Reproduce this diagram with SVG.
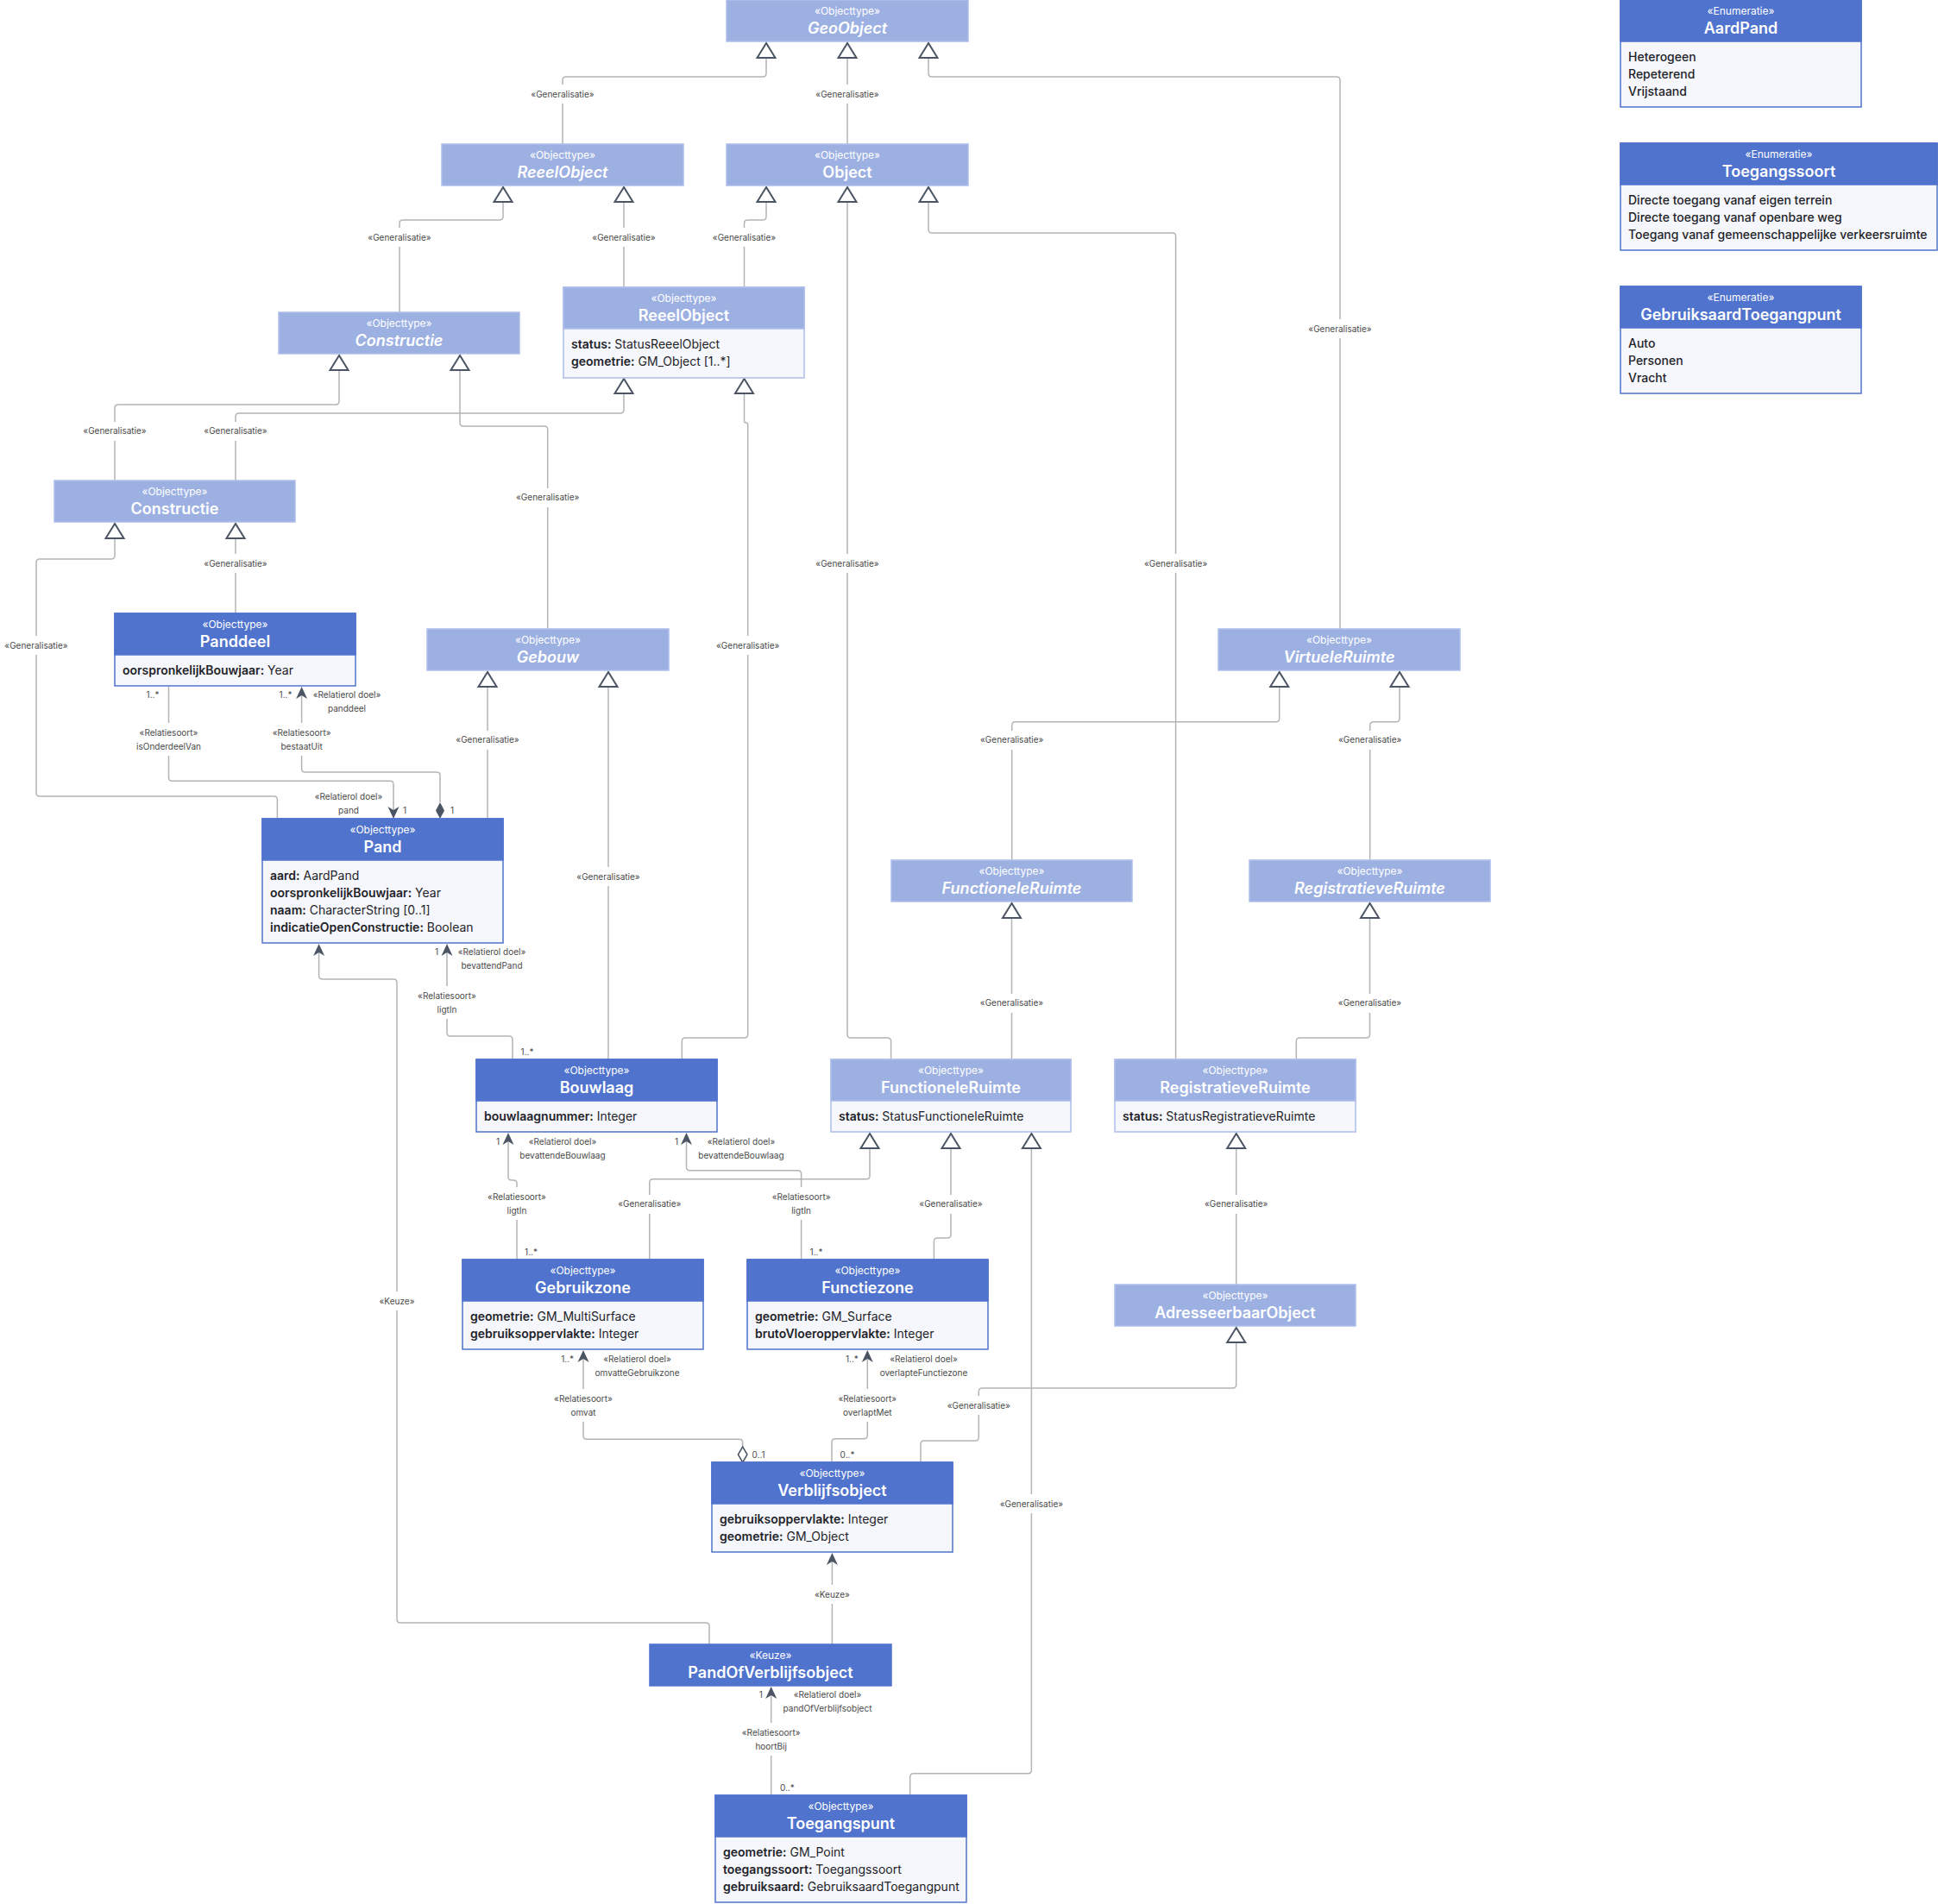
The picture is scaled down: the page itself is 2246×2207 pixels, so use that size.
<svg xmlns="http://www.w3.org/2000/svg" width="2246" height="2207" viewBox="0 0 2246 2207">
<style>
text{font-family:Inter,"Noto Sans","Liberation Sans",sans-serif}
.hl{fill:#9DB0E2;stroke:#AEBEEA;stroke-width:1.5}
.hd{fill:#5073CD;stroke:#5073CD;stroke-width:1.5}
.bl{fill:#F5F7FC;stroke:#AEBEEA;stroke-width:1.5}
.bd{fill:#F5F7FC;stroke:#5073CD;stroke-width:1.5}
.st{font-size:12px;fill:#fff;text-anchor:middle}
.nm{font-size:18px;font-weight:600;fill:#fff;text-anchor:middle}
.it{font-style:italic}
.at{font-size:14px;fill:#1F2328}
.k{font-weight:600}
.ev{font-size:14px;font-weight:500;fill:#1F2328}
.ln{fill:none;stroke:#B4B4B4;stroke-width:1.5}
.cl{font-size:10px;fill:#4A4A4A;text-anchor:middle}
.bg{fill:#fff}
.tri{fill:#fff;stroke:#4B5563;stroke-width:2}
.ah{fill:#4B5563}
.dh{fill:#fff;stroke:#4B5563;stroke-width:1.5}
</style>
<defs>
<path id="tri" class="tri" d="M0,0 L-10.5,17 L10.5,17 Z"/>
<path id="arr" class="ah" d="M0,0 L-6.5,14 L0,10 L6.5,14 Z"/>
</defs>

<g id="connectors">
<!-- generalisations -->
<path class="ln" d="M888,67 V85 Q888,89 884,89 H656 Q652,89 652,93 V167"/>
<path class="ln" d="M982,67 V167"/>
<path class="ln" d="M1076,67 V85 Q1076,89 1080,89 H1549 Q1553,89 1553,93 V729"/>
<path class="ln" d="M583,234 V251 Q583,255 579,255 H467 Q463,255 463,259 V362"/>
<path class="ln" d="M723,234 V333"/>
<path class="ln" d="M888,234 V251 Q888,255 884,255 H866.5 Q862.5,255 862.5,259 V333"/>
<path class="ln" d="M982,234 V1199 Q982,1203 986,1203 H1028.6 Q1032.6,1203 1032.6,1207 V1228"/>
<path class="ln" d="M1076,234 V266 Q1076,270 1080,270 H1358.6 Q1362.6,270 1362.6,274 V1228"/>
<path class="ln" d="M393,429 V465 Q393,469 389,469 H137 Q133,469 133,473 V557"/>
<path class="ln" d="M723,456 V475 Q723,479 719,479 H277 Q273,479 273,483 V557"/>
<path class="ln" d="M533,429 V490 Q533,494 537,494 H630.7 Q634.7,494 634.7,498 V729"/>
<path class="ln" d="M862.5,456 V488 Q862.5,490 864.6,490 Q866.7,490 866.7,492 V1199 Q866.7,1203 862.7,1203 H794.3 Q790.3,1203 790.3,1207 V1228"/>
<path class="ln" d="M133,624 V644 Q133,648 129,648 H46 Q42,648 42,652 V919 Q42,923 46,923 H317.4 Q321.4,923 321.4,927 V949"/>
<path class="ln" d="M273,624 V711"/>
<path class="ln" d="M565,796 V949"/>
<path class="ln" d="M705,796 V1228"/>
<path class="ln" d="M1482.7,796 V832.7 Q1482.7,836.7 1478.7,836.7 H1176.7 Q1172.7,836.7 1172.7,840.7 V997"/>
<path class="ln" d="M1622,796 V832.7 Q1622,836.7 1618,836.7 H1591.7 Q1587.7,836.7 1587.7,840.7 V997"/>
<path class="ln" d="M1172.5,1064 V1228"/>
<path class="ln" d="M1587.5,1064 V1199 Q1587.5,1203 1583.5,1203 H1506.3 Q1502.3,1203 1502.3,1207 V1228"/>
<path class="ln" d="M1008,1331 V1362.7 Q1008,1366.7 1004,1366.7 H756.8 Q752.8,1366.7 752.8,1370.7 V1460"/>
<path class="ln" d="M1102,1331 V1431 Q1102,1435 1098,1435 H1086.4 Q1082.4,1435 1082.4,1439 V1460"/>
<path class="ln" d="M1195.4,1331 V2051.7 Q1195.4,2055.7 1191.4,2055.7 H1058.7 Q1054.7,2055.7 1054.7,2059.7 V2081"/>
<path class="ln" d="M1432.7,1331 V1489"/>
<path class="ln" d="M1432.7,1556 V1605 Q1432.7,1609 1428.7,1609 H1138.3 Q1134.3,1609 1134.3,1613 V1666 Q1134.3,1670 1130.3,1670 H1071 Q1067,1670 1067,1674 V1695"/>
<!-- associations -->
<path class="ln" d="M195.5,796 V901.3 Q195.5,905.3 199.5,905.3 H452 Q456,905.3 456,909.3 V945"/>
<path class="ln" d="M349.6,806 V891 Q349.6,895 353.6,895 H506 Q510,895 510,899 V930"/>
<path class="ln" d="M518,1104 V1197 Q518,1201 522,1201 H590 Q594,1201 594,1205 V1228"/>
<path class="ln" d="M369.6,1104 V1131 Q369.6,1135 373.6,1135 H456 Q460,1135 460,1139 V1877 Q460,1881 464,1881 H818 Q822,1881 822,1885 V1906"/>
<path class="ln" d="M589,1323 V1364 Q589,1368 593,1368 H595 Q599,1368 599,1372 V1460"/>
<path class="ln" d="M795.5,1323 V1352.7 Q795.5,1356.7 799.5,1356.7 H924.6 Q928.6,1356.7 928.6,1360.7 V1460"/>
<path class="ln" d="M676,1575 V1664.3 Q676,1668.3 680,1668.3 H856.7 Q860.7,1668.3 860.7,1672.3 V1677"/>
<path class="ln" d="M1005.3,1575 V1663.7 Q1005.3,1667.7 1001.3,1667.7 H968 Q964,1667.7 964,1671.7 V1695"/>
<path class="ln" d="M964.4,1810 V1906"/>
<path class="ln" d="M893.7,1965 V2081"/>

<!-- generalisation triangles -->
<use href="#tri" x="888" y="50"/><use href="#tri" x="982" y="50"/><use href="#tri" x="1076" y="50"/>
<use href="#tri" x="583" y="217"/><use href="#tri" x="723" y="217"/>
<use href="#tri" x="888" y="217"/><use href="#tri" x="982" y="217"/><use href="#tri" x="1076" y="217"/>
<use href="#tri" x="723" y="439"/><use href="#tri" x="862.5" y="439"/>
<use href="#tri" x="393" y="412"/><use href="#tri" x="533" y="412"/>
<use href="#tri" x="133" y="607"/><use href="#tri" x="273" y="607"/>
<use href="#tri" x="565" y="779"/><use href="#tri" x="705" y="779"/>
<use href="#tri" x="1482.7" y="779"/><use href="#tri" x="1622" y="779"/>
<use href="#tri" x="1172.5" y="1047"/><use href="#tri" x="1587.5" y="1047"/>
<use href="#tri" x="1008" y="1314"/><use href="#tri" x="1102" y="1314"/><use href="#tri" x="1195.4" y="1314"/>
<use href="#tri" x="1432.7" y="1314"/>
<use href="#tri" x="1432.7" y="1539"/>

<!-- association ends -->
<use href="#arr" transform="translate(456,949) rotate(180)"/>
<use href="#arr" x="349.6" y="796"/>
<path class="ah" d="M510,949 L515,939.5 L510,930 L505,939.5 Z"/>
<use href="#arr" x="518" y="1094"/>
<use href="#arr" x="369.6" y="1094"/>
<use href="#arr" x="589" y="1313"/>
<use href="#arr" x="795.5" y="1313"/>
<use href="#arr" x="676" y="1565"/>
<use href="#arr" x="1005.3" y="1565"/>
<path class="dh" d="M860.7,1695 L866,1686 L860.7,1677 L855.4,1686 Z"/>
<use href="#arr" x="964.4" y="1800"/>
<use href="#arr" x="893.7" y="1955"/>

<!-- generalisation labels -->
<rect class="bg" x="613" y="98" width="78" height="22"/><text class="cl" x="652" y="112.5">«Generalisatie»</text>
<rect class="bg" x="943" y="98" width="78" height="22"/><text class="cl" x="982" y="112.5">«Generalisatie»</text>
<rect class="bg" x="1514" y="370" width="78" height="22"/><text class="cl" x="1553" y="384.5">«Generalisatie»</text>
<rect class="bg" x="424" y="264" width="78" height="22"/><text class="cl" x="463" y="278.5">«Generalisatie»</text>
<rect class="bg" x="684" y="264" width="78" height="22"/><text class="cl" x="723" y="278.5">«Generalisatie»</text>
<rect class="bg" x="823.5" y="264" width="78" height="22"/><text class="cl" x="862.5" y="278.5">«Generalisatie»</text>
<rect class="bg" x="943" y="642" width="78" height="22"/><text class="cl" x="982" y="656.5">«Generalisatie»</text>
<rect class="bg" x="1323.6" y="642" width="78" height="22"/><text class="cl" x="1362.6" y="656.5">«Generalisatie»</text>
<rect class="bg" x="94" y="489" width="78" height="22"/><text class="cl" x="133" y="503">«Generalisatie»</text>
<rect class="bg" x="234" y="489" width="78" height="22"/><text class="cl" x="273" y="503">«Generalisatie»</text>
<rect class="bg" x="595.7" y="566" width="78" height="22"/><text class="cl" x="634.7" y="580">«Generalisatie»</text>
<rect class="bg" x="827.7" y="737" width="78" height="22"/><text class="cl" x="866.7" y="751.5">«Generalisatie»</text>
<rect class="bg" x="234" y="642" width="78" height="22"/><text class="cl" x="273" y="656.5">«Generalisatie»</text>
<rect class="bg" x="3" y="737" width="78" height="22"/><text class="cl" x="42" y="751.5">«Generalisatie»</text>
<rect class="bg" x="526" y="847" width="78" height="22"/><text class="cl" x="565" y="861">«Generalisatie»</text>
<rect class="bg" x="666" y="1005" width="78" height="22"/><text class="cl" x="705" y="1020">«Generalisatie»</text>
<rect class="bg" x="1133.7" y="847" width="78" height="22"/><text class="cl" x="1172.7" y="861">«Generalisatie»</text>
<rect class="bg" x="1548.7" y="847" width="78" height="22"/><text class="cl" x="1587.7" y="861">«Generalisatie»</text>
<rect class="bg" x="1133.5" y="1152" width="78" height="22"/><text class="cl" x="1172.5" y="1166">«Generalisatie»</text>
<rect class="bg" x="1548.5" y="1152" width="78" height="22"/><text class="cl" x="1587.5" y="1166">«Generalisatie»</text>
<rect class="bg" x="713.8" y="1385" width="78" height="22"/><text class="cl" x="752.8" y="1399">«Generalisatie»</text>
<rect class="bg" x="1063" y="1385" width="78" height="22"/><text class="cl" x="1102" y="1399">«Generalisatie»</text>
<rect class="bg" x="1393.7" y="1385" width="78" height="22"/><text class="cl" x="1432.7" y="1399">«Generalisatie»</text>
<rect class="bg" x="1095.3" y="1618" width="78" height="22"/><text class="cl" x="1134.3" y="1633">«Generalisatie»</text>
<rect class="bg" x="1156.4" y="1732" width="78" height="22"/><text class="cl" x="1195.4" y="1747">«Generalisatie»</text>

<!-- association labels -->
<text class="cl" x="177" y="809">1..*</text>
<rect class="bg" x="157" y="838" width="77" height="38"/>
<text class="cl" x="195.5" y="853">«Relatiesoort»</text><text class="cl" x="195.5" y="869">isOnderdeelVan</text>
<text class="cl" x="404" y="927">«Relatierol doel»</text><text class="cl" x="404" y="943">pand</text>
<text class="cl" x="469" y="943">1</text>

<text class="cl" x="331" y="809">1..*</text>
<text class="cl" x="402" y="809">«Relatierol doel»</text><text class="cl" x="402" y="825">panddeel</text>
<rect class="bg" x="313" y="838" width="74" height="38"/>
<text class="cl" x="349.6" y="853">«Relatiesoort»</text><text class="cl" x="349.6" y="869">bestaatUit</text>
<text class="cl" x="524" y="943">1</text>

<text class="cl" x="506" y="1107">1</text>
<text class="cl" x="570" y="1107">«Relatierol doel»</text><text class="cl" x="570" y="1123">bevattendPand</text>
<rect class="bg" x="481" y="1143" width="74" height="38"/>
<text class="cl" x="518" y="1158">«Relatiesoort»</text><text class="cl" x="518" y="1174">ligtIn</text>
<text class="cl" x="611" y="1223">1..*</text>

<rect class="bg" x="440" y="1497" width="40" height="22"/><text class="cl" x="460" y="1511.5">«Keuze»</text>

<text class="cl" x="577" y="1327">1</text>
<text class="cl" x="652" y="1327">«Relatierol doel»</text><text class="cl" x="652" y="1343">bevattendeBouwlaag</text>
<rect class="bg" x="562" y="1376" width="74" height="38"/>
<text class="cl" x="599" y="1391">«Relatiesoort»</text><text class="cl" x="599" y="1407">ligtIn</text>
<text class="cl" x="615.5" y="1455">1..*</text>

<text class="cl" x="784" y="1327">1</text>
<text class="cl" x="859" y="1327">«Relatierol doel»</text><text class="cl" x="859" y="1343">bevattendeBouwlaag</text>
<rect class="bg" x="891.6" y="1376" width="74" height="38"/>
<text class="cl" x="928.6" y="1391">«Relatiesoort»</text><text class="cl" x="928.6" y="1407">ligtIn</text>
<text class="cl" x="946" y="1455">1..*</text>

<text class="cl" x="657.7" y="1579">1..*</text>
<text class="cl" x="738.5" y="1579">«Relatierol doel»</text><text class="cl" x="738.5" y="1595">omvatteGebruikzone</text>
<rect class="bg" x="639" y="1610" width="74" height="38"/>
<text class="cl" x="676" y="1625">«Relatiesoort»</text><text class="cl" x="676" y="1641">omvat</text>
<text class="cl" x="879" y="1690">0..1</text>

<text class="cl" x="987.4" y="1579">1..*</text>
<text class="cl" x="1070.5" y="1579">«Relatierol doel»</text><text class="cl" x="1070.5" y="1595">overlapteFunctiezone</text>
<rect class="bg" x="968" y="1610" width="74" height="38"/>
<text class="cl" x="1005.3" y="1625">«Relatiesoort»</text><text class="cl" x="1005.3" y="1641">overlaptMet</text>
<text class="cl" x="982" y="1690">0..*</text>

<rect class="bg" x="944.4" y="1837" width="40" height="22"/><text class="cl" x="964.4" y="1851.5">«Keuze»</text>

<text class="cl" x="881.7" y="1968">1</text>
<text class="cl" x="959" y="1968">«Relatierol doel»</text><text class="cl" x="959" y="1984">pandOfVerblijfsobject</text>
<rect class="bg" x="856.7" y="1997" width="74" height="38"/>
<text class="cl" x="893.7" y="2012">«Relatiesoort»</text><text class="cl" x="893.7" y="2028">hoortBij</text>
<text class="cl" x="912.3" y="2075.5">0..*</text>
</g>

<g id="n-GeoObject"><rect class="hl" x="842" y="0" width="280" height="48"/><text class="st" x="982" y="17">«Objecttype»</text><text class="nm it" x="982" y="38.5">GeoObject</text></g>
<g id="n-ReeelObjectAbstract"><rect class="hl" x="512" y="167" width="280" height="48"/><text class="st" x="652" y="184">«Objecttype»</text><text class="nm it" x="652" y="205.5">ReeelObject</text></g>
<g id="n-Object"><rect class="hl" x="842" y="167" width="280" height="48"/><text class="st" x="982" y="184">«Objecttype»</text><text class="nm" x="982" y="205.5">Object</text></g>
<g id="n-ReeelObject"><rect class="bl" x="653" y="333" width="279" height="105"/><rect class="hl" x="653" y="333" width="279" height="48"/><text class="st" x="792.5" y="350">«Objecttype»</text><text class="nm" x="792.5" y="371.5">ReeelObject</text>
<text class="at" x="662" y="404"><tspan class="k">status:</tspan> StatusReeelObject</text><text class="at" x="662" y="424"><tspan class="k">geometrie:</tspan> GM_Object [1..*]</text></g>
<g id="n-ConstructieAbstract"><rect class="hl" x="323" y="362" width="279" height="48"/><text class="st" x="462.5" y="379">«Objecttype»</text><text class="nm it" x="462.5" y="400.5">Constructie</text></g>
<g id="n-Constructie"><rect class="hl" x="63" y="557" width="279" height="48"/><text class="st" x="202.5" y="574">«Objecttype»</text><text class="nm" x="202.5" y="595.5">Constructie</text></g>
<g id="n-Panddeel"><rect class="bd" x="133" y="711" width="279" height="84"/><rect class="hd" x="133" y="711" width="279" height="48"/><text class="st" x="272.5" y="728">«Objecttype»</text><text class="nm" x="272.5" y="749.5">Panddeel</text>
<text class="at" x="142" y="782"><tspan class="k">oorspronkelijkBouwjaar:</tspan> Year</text></g>
<g id="n-Gebouw"><rect class="hl" x="495" y="729" width="280" height="48"/><text class="st" x="635" y="746">«Objecttype»</text><text class="nm it" x="635" y="767.5">Gebouw</text></g>
<g id="n-VirtueleRuimte"><rect class="hl" x="1412" y="729" width="280" height="48"/><text class="st" x="1552" y="746">«Objecttype»</text><text class="nm it" x="1552" y="767.5">VirtueleRuimte</text></g>
<g id="n-Pand"><rect class="bd" x="304" y="949" width="279" height="144"/><rect class="hd" x="304" y="949" width="279" height="48"/><text class="st" x="443.5" y="966">«Objecttype»</text><text class="nm" x="443.5" y="987.5">Pand</text>
<text class="at" x="313" y="1020"><tspan class="k">aard:</tspan> AardPand</text>
<text class="at" x="313" y="1040"><tspan class="k">oorspronkelijkBouwjaar:</tspan> Year</text>
<text class="at" x="313" y="1060"><tspan class="k">naam:</tspan> CharacterString [0..1]</text>
<text class="at" x="313" y="1080"><tspan class="k">indicatieOpenConstructie:</tspan> Boolean</text></g>
<g id="n-FunctioneleRuimteAbstract"><rect class="hl" x="1033" y="997" width="279" height="48"/><text class="st" x="1172.5" y="1014">«Objecttype»</text><text class="nm it" x="1172.5" y="1035.5">FunctioneleRuimte</text></g>
<g id="n-RegistratieveRuimteAbstract"><rect class="hl" x="1448" y="997" width="279" height="48"/><text class="st" x="1587.5" y="1014">«Objecttype»</text><text class="nm it" x="1587.5" y="1035.5">RegistratieveRuimte</text></g>
<g id="n-Bouwlaag"><rect class="bd" x="552" y="1228" width="279" height="84"/><rect class="hd" x="552" y="1228" width="279" height="48"/><text class="st" x="691.5" y="1245">«Objecttype»</text><text class="nm" x="691.5" y="1266.5">Bouwlaag</text>
<text class="at" x="561" y="1299"><tspan class="k">bouwlaagnummer:</tspan> Integer</text></g>
<g id="n-FunctioneleRuimte"><rect class="bl" x="963" y="1228" width="278" height="84"/><rect class="hl" x="963" y="1228" width="278" height="48"/><text class="st" x="1102" y="1245">«Objecttype»</text><text class="nm" x="1102" y="1266.5">FunctioneleRuimte</text>
<text class="at" x="972" y="1299"><tspan class="k">status:</tspan> StatusFunctioneleRuimte</text></g>
<g id="n-RegistratieveRuimte"><rect class="bl" x="1292" y="1228" width="279" height="84"/><rect class="hl" x="1292" y="1228" width="279" height="48"/><text class="st" x="1431.5" y="1245">«Objecttype»</text><text class="nm" x="1431.5" y="1266.5">RegistratieveRuimte</text>
<text class="at" x="1301" y="1299"><tspan class="k">status:</tspan> StatusRegistratieveRuimte</text></g>
<g id="n-Gebruikzone"><rect class="bd" x="536" y="1460" width="279" height="104"/><rect class="hd" x="536" y="1460" width="279" height="48"/><text class="st" x="675.5" y="1477">«Objecttype»</text><text class="nm" x="675.5" y="1498.5">Gebruikzone</text>
<text class="at" x="545" y="1531"><tspan class="k">geometrie:</tspan> GM_MultiSurface</text>
<text class="at" x="545" y="1551"><tspan class="k">gebruiksoppervlakte:</tspan> Integer</text></g>
<g id="n-Functiezone"><rect class="bd" x="866" y="1460" width="279" height="104"/><rect class="hd" x="866" y="1460" width="279" height="48"/><text class="st" x="1005.5" y="1477">«Objecttype»</text><text class="nm" x="1005.5" y="1498.5">Functiezone</text>
<text class="at" x="875" y="1531"><tspan class="k">geometrie:</tspan> GM_Surface</text>
<text class="at" x="875" y="1551"><tspan class="k">brutoVloeroppervlakte:</tspan> Integer</text></g>
<g id="n-AdresseerbaarObject"><rect class="hl" x="1292" y="1489" width="279" height="48"/><text class="st" x="1431.5" y="1506">«Objecttype»</text><text class="nm" x="1431.5" y="1527.5">AdresseerbaarObject</text></g>
<g id="n-Verblijfsobject"><rect class="bd" x="825" y="1695" width="279" height="104"/><rect class="hd" x="825" y="1695" width="279" height="48"/><text class="st" x="964.5" y="1712">«Objecttype»</text><text class="nm" x="964.5" y="1733.5">Verblijfsobject</text>
<text class="at" x="834" y="1766"><tspan class="k">gebruiksoppervlakte:</tspan> Integer</text>
<text class="at" x="834" y="1786"><tspan class="k">geometrie:</tspan> GM_Object</text></g>
<g id="n-PandOfVerblijfsobject"><rect class="hd" x="753" y="1906" width="280" height="48"/><text class="st" x="893" y="1923">«Keuze»</text><text class="nm" x="893" y="1944.5">PandOfVerblijfsobject</text></g>
<g id="n-Toegangspunt"><rect class="bd" x="829" y="2081" width="291" height="124"/><rect class="hd" x="829" y="2081" width="291" height="48"/><text class="st" x="974.5" y="2098">«Objecttype»</text><text class="nm" x="974.5" y="2119.5">Toegangspunt</text>
<text class="at" x="838" y="2152"><tspan class="k">geometrie:</tspan> GM_Point</text>
<text class="at" x="838" y="2172"><tspan class="k">toegangssoort:</tspan> Toegangssoort</text>
<text class="at" x="838" y="2192"><tspan class="k">gebruiksaard:</tspan> GebruiksaardToegangpunt</text></g>
<g id="n-AardPand"><rect class="bd" x="1878" y="0" width="279" height="124"/><rect class="hd" x="1878" y="0" width="279" height="48"/><text class="st" x="2017.5" y="17">«Enumeratie»</text><text class="nm" x="2017.5" y="38.5">AardPand</text>
<text class="ev" x="1887" y="71">Heterogeen</text><text class="ev" x="1887" y="91">Repeterend</text><text class="ev" x="1887" y="111">Vrijstaand</text></g>
<g id="n-Toegangssoort"><rect class="bd" x="1878" y="166" width="367" height="124"/><rect class="hd" x="1878" y="166" width="367" height="48"/><text class="st" x="2061.5" y="183">«Enumeratie»</text><text class="nm" x="2061.5" y="204.5">Toegangssoort</text>
<text class="ev" x="1887" y="237">Directe toegang vanaf eigen terrein</text><text class="ev" x="1887" y="257">Directe toegang vanaf openbare weg</text><text class="ev" x="1887" y="277">Toegang vanaf gemeenschappelijke verkeersruimte</text></g>
<g id="n-GebruiksaardToegangpunt"><rect class="bd" x="1878" y="332" width="279" height="124"/><rect class="hd" x="1878" y="332" width="279" height="48"/><text class="st" x="2017.5" y="349">«Enumeratie»</text><text class="nm" x="2017.5" y="370.5">GebruiksaardToegangpunt</text>
<text class="ev" x="1887" y="403">Auto</text><text class="ev" x="1887" y="423">Personen</text><text class="ev" x="1887" y="443">Vracht</text></g>
</svg>
